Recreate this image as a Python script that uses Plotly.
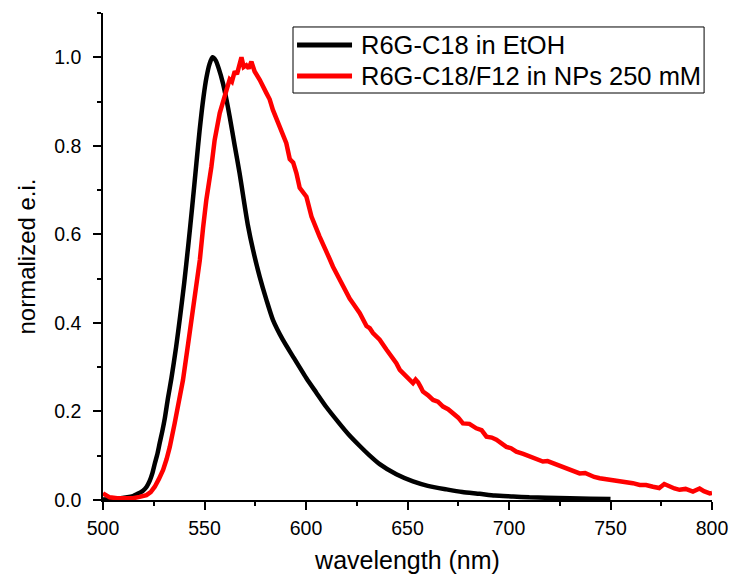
import plotly.graph_objects as go

# R6G-C18 in EtOH (black)
wl_black = [500, 505, 508.2, 512, 514.8, 517, 519.7, 521.5, 523, 524.3, 525.5, 526.8, 527.9,
            529.2, 530.4, 532, 533.7, 536, 538, 540, 542, 544, 546, 547.6, 549.5, 551, 552.5,
            553.9, 555.5, 557, 559.1, 560.8, 562.4, 564.9, 567.3, 569, 571.4, 573.9, 577.2,
            580.5, 583.7, 588.7, 593.6, 600.2, 605, 610, 616.6, 621, 626.5, 631, 636.3, 644.5,
            652.7, 660, 669.2, 677, 685.6, 693, 702, 710, 718.4, 730, 740, 750]
ei_black = [0.001, 0.002, 0.004, 0.006, 0.009, 0.014, 0.021, 0.030, 0.043, 0.060, 0.082, 0.104, 0.128,
            0.155, 0.183, 0.230, 0.275, 0.345, 0.415, 0.49, 0.575, 0.665, 0.76, 0.835, 0.91, 0.955, 0.985,
            1.0, 0.993, 0.975, 0.941, 0.905, 0.866, 0.800, 0.738, 0.688, 0.620, 0.565, 0.504,
            0.452, 0.407, 0.361, 0.324, 0.275, 0.243, 0.210, 0.172, 0.148, 0.122, 0.102, 0.081, 0.058,
            0.042, 0.032, 0.024, 0.018, 0.014, 0.010, 0.008, 0.006, 0.005, 0.004, 0.003, 0.002]

# R6G-C18/F12 in NPs 250 mM (red)
wl_red = [500, 501.5, 503.3, 507, 511, 514.8, 518, 521.4, 523.5, 525.5, 527.5, 529.6, 531.3, 532.9,
          535.3, 537.8, 539.4, 542, 545, 547.7, 549.3, 550.9, 553.4, 555, 557.5, 558.8, 560, 561.2,
          562.4, 563.5, 564.9, 566, 567.2, 568.2, 569.3, 570.6, 571.8, 573.1, 574.7, 577.2, 580.5,
          582.1, 583.7, 587, 590.3, 592, 593.7, 595.3, 596.9, 600.2, 602.7, 606.7, 610, 611.6,
          613.3, 616.6, 619.9, 621.5, 623.2, 626.5, 629.8, 631.4, 633, 636.3, 639.6, 641.2, 642.9,
          644.5, 646.2, 647.8, 650.3, 652.7, 654, 655.2, 656.5, 657.6, 660, 662.6, 665, 667.5, 670,
          672.4, 675, 677.3, 680.5, 683.9, 686.5, 688.9, 691.5, 693.8, 696.3, 698.7, 701, 703.6, 707,
          710.2, 713.5, 716.7, 719, 721.7, 725, 728.3, 731.5, 734.8, 737.5, 739.8, 742, 744.7, 748,
          751.2, 754.5, 757.8, 761, 764.4, 767.5, 770.9, 774, 776.5, 779.1, 781.5, 784, 787, 790.6,
          792.3, 793.9, 796, 798.9, 800]
ei_red = [0.015, 0.010, 0.006, 0.004, 0.003, 0.004, 0.007, 0.011, 0.018, 0.030, 0.047, 0.068, 0.092, 0.120,
          0.173, 0.233, 0.271, 0.355, 0.45, 0.542, 0.615, 0.678, 0.753, 0.813, 0.874, 0.895, 0.915, 0.932,
          0.950, 0.945, 0.968, 0.962, 0.985, 1.0, 0.978, 0.982, 0.975, 0.99, 0.968, 0.949, 0.919,
          0.905, 0.881, 0.843, 0.806, 0.770, 0.762, 0.738, 0.705, 0.685, 0.640, 0.595, 0.557, 0.545,
          0.527, 0.497, 0.467, 0.455, 0.444, 0.422, 0.393, 0.388, 0.377, 0.362, 0.340, 0.331, 0.318,
          0.309, 0.294, 0.286, 0.273, 0.264, 0.272, 0.266, 0.255, 0.245, 0.237, 0.226, 0.222, 0.211, 0.205,
          0.196, 0.186, 0.173, 0.172, 0.162, 0.158, 0.143, 0.141, 0.136, 0.128, 0.120, 0.117, 0.109, 0.104,
          0.098, 0.092, 0.087, 0.088, 0.083, 0.078, 0.072, 0.066, 0.060, 0.061, 0.056, 0.052, 0.049, 0.047,
          0.045, 0.043, 0.041, 0.038, 0.034, 0.034, 0.030, 0.027, 0.036, 0.030, 0.026, 0.023, 0.025, 0.019,
          0.022, 0.026, 0.020, 0.015, 0.016]

series_names = ["R6G-C18 in EtOH", "R6G-C18/F12 in NPs 250 mM"]
series_colors = ["black", "#ff0000"]

x_ticks = [500, 550, 600, 650, 700, 750, 800]
y_ticks = [0.0, 0.2, 0.4, 0.6, 0.8, 1.0]
y_tick_text = ["0.0", "0.2", "0.4", "0.6", "0.8", "1.0"]

FONT = "Liberation Sans, Arial, sans-serif"

fig = go.Figure()
fig.add_trace(go.Scatter(x=wl_black, y=ei_black, mode="lines", name=series_names[0], showlegend=False,
                         line=dict(color=series_colors[0], width=4.5, shape="spline", smoothing=0.6)))
fig.add_trace(go.Scatter(x=wl_red, y=ei_red, mode="lines", name=series_names[1], showlegend=False,
                         line=dict(color=series_colors[1], width=4.5)))

axis_common = dict(showgrid=False, zeroline=False, showline=True, linecolor="black", linewidth=1.5,
                   ticks="outside", ticklen=8, tickwidth=1.5, tickcolor="black",
                   tickfont=dict(family=FONT, size=19.5, color="black"),
                   mirror=False, automargin=False)

fig.update_xaxes(range=[500, 800], tickvals=x_ticks, ticklabelstandoff=2,
                 minor=dict(ticks="outside", ticklen=4, tickwidth=1.5, tickcolor="black", dtick=25, tick0=500),
                 title=dict(text="wavelength (nm)", font=dict(family=FONT, size=25, color="black"), standoff=13),
                 **axis_common)
fig.update_yaxes(range=[0, 1.1], tickvals=y_ticks, ticktext=y_tick_text, ticklabelstandoff=8,
                 minor=dict(ticks="outside", ticklen=4, tickwidth=1.5, tickcolor="black", dtick=0.1, tick0=0),
                 title=dict(text="normalized e.i.", font=dict(family=FONT, size=24, color="black"), standoff=12),
                 **axis_common)

# Manual legend (paper coordinates)
legend_box = dict(x0=0.312, x1=0.987, y0=0.8357, y1=0.9713)
row_y = [0.9343, 0.8706]
shapes = [dict(type="rect", xref="paper", yref="paper", **legend_box,
               line=dict(color="black", width=1), fillcolor="white", layer="above")]
annotations = []
for name, color, yy in zip(series_names, series_colors, row_y):
    shapes.append(dict(type="line", xref="paper", yref="paper", x0=0.3186, x1=0.4089, y0=yy, y1=yy,
                       line=dict(color=color, width=5), layer="above"))
    annotations.append(dict(text=name, xref="paper", yref="paper", x=0.4204, y=yy,
                            xanchor="left", yanchor="middle", showarrow=False,
                            font=dict(family=FONT, size=25.5, color="black")))

fig.update_layout(
    width=735, height=579,
    margin=dict(l=103, r=23, t=13, b=79),
    plot_bgcolor="white", paper_bgcolor="white",
    font=dict(family=FONT, color="black"),
    shapes=shapes, annotations=annotations,
    showlegend=False,
)

fig.write_html("out.html")
